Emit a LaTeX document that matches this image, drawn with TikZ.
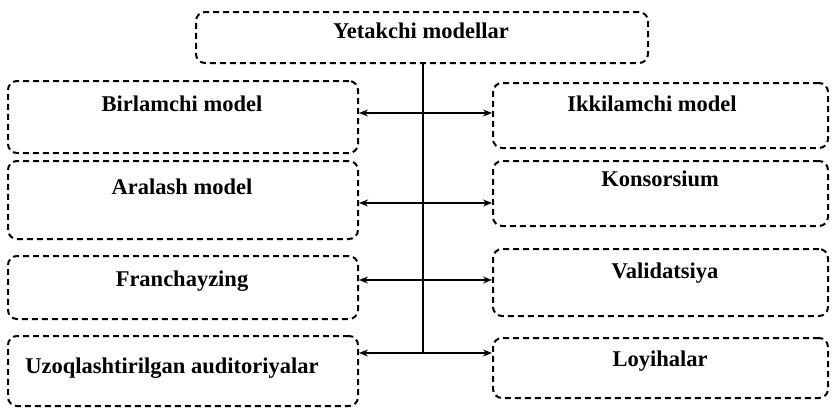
\documentclass[tikz,border=0pt]{standalone}
\usepackage{fontspec}
\setmainfont{Liberation Serif}
\usetikzlibrary{arrows.meta}
\begin{document}
\begin{tikzpicture}[x=1pt,y=-1pt,
  box/.style={draw=black, line width=2pt, dash pattern=on 6pt off 4pt, rounded corners=9pt, anchor=north west, inner sep=0pt},
  lbl/.style={font=\fontsize{22.5}{27}\selectfont\bfseries, inner sep=0pt},
  conn/.style={line width=1.3pt},
  arr/.style={line width=1.3pt, -{Stealth[length=9pt,width=7pt]}}]
\useasboundingbox (0,0) rectangle (834,407);
% top
\node[box, minimum width=452pt, minimum height=51pt] (top) at (195,11) {};
\node[lbl] (ttop) at (421,31) {Yetakchi modellar};
% left boxes
\node[box, minimum width=350pt, minimum height=72pt] (b1) at (7,80) {};
\node[box, minimum width=350pt, minimum height=78pt] (b2) at (7,160) {};
\node[box, minimum width=350pt, minimum height=63pt] (b3) at (7,255) {};
\node[box, minimum width=350pt, minimum height=70pt] (b4) at (7,335) {};
% right boxes
\node[box, minimum width=335pt, minimum height=65pt] (c1) at (492,82) {};
\node[box, minimum width=335pt, minimum height=65pt] (c2) at (492,160) {};
\node[box, minimum width=335pt, minimum height=67pt] (c3) at (492,248) {};
\node[box, minimum width=335pt, minimum height=60pt] (c4) at (492,337) {};
% labels
\node[lbl] (tb1) at (182,104) {Birlamchi model};
\node[lbl] (tb2) at (182,187) {Aralash model};
\node[lbl] (tb3) at (182,281) {Franchayzing};
\node[lbl] (tb4) at (172,368) {Uzoqlashtirilgan auditoriyalar};
\node[lbl] (tc1) at (652,104) {Ikkilamchi model};
\node[lbl] (tc2) at (660,179) {Konsorsium};
\node[lbl] (tc3) at (665,273) {Validatsiya};
\node[lbl] (tc4) at (660,361) {Loyihalar};
% connectors
\coordinate (j0) at (423,62);
\coordinate (j1) at (423,113);
\coordinate (j2) at (423,203);
\coordinate (j3) at (423,280);
\coordinate (j4) at (423,353);
\draw[conn] (j0) -- (j4);
\draw[arr] (j1) -- (j1 -| b1.east);
\draw[arr] (j1) -- (j1 -| c1.west);
\draw[arr] (j2) -- (j2 -| b2.east);
\draw[arr] (j2) -- (j2 -| c2.west);
\draw[arr] (j3) -- (j3 -| b3.east);
\draw[arr] (j3) -- (j3 -| c3.west);
\draw[arr] (j4) -- (j4 -| b4.east);
\draw[arr] (j4) -- (j4 -| c4.west);
\end{tikzpicture}
\end{document}
